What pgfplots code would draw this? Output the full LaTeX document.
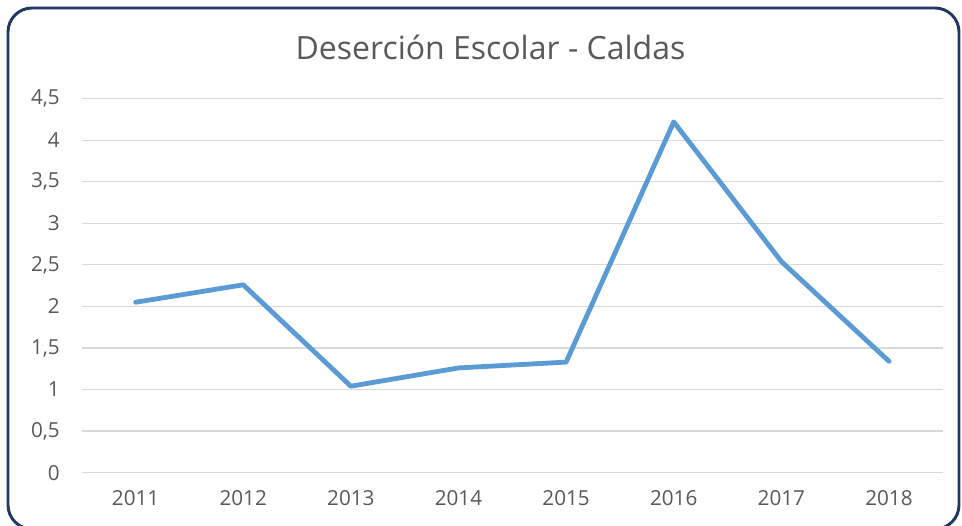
\documentclass[border=0pt]{standalone}
\usepackage{pgfplots}
\pgfplotsset{compat=1.18}
\usepackage{fontspec}
\setmainfont{Open Sans}
\definecolor{linea}{HTML}{5B9BD5}
\definecolor{texto}{HTML}{595959}
\definecolor{rejilla}{HTML}{D9D9D9}
\definecolor{marco}{HTML}{1F3864}
\begin{document}
\begin{tikzpicture}[x=0.75pt,y=0.75pt]
\useasboundingbox (0,0) rectangle (962,525);
\fill[white] (0,0) rectangle (962,525);
\draw[marco,line width=2.2pt,rounded corners=18pt] (8,-4) rectangle (959,517);
\node[texto,font=\fontsize{24}{28}\selectfont] at (490.5,478) {Deserción Escolar - Caldas};
\begin{axis}[
    at={(76,63)},
    anchor=south west,
    scale only axis,
    width=645.75pt,
    height=280.5pt,
    xmin=0.5, xmax=8.5,
    ymin=0, ymax=4.5,
    xtick={1,...,8},
    xticklabels={2011,2012,2013,2014,2015,2016,2017,2018},
    ytick={0,0.5,...,4.5},
    /pgf/number format/use comma,
    /pgf/number format/assume math mode=true,
    axis line style={draw=none},
    major tick length=0pt,
    ymajorgrids,
    grid style={rejilla,line width=0.9pt},
    tick label style={texto,font=\fontsize{15.5}{18}\selectfont},
    yticklabel style={xshift=-13pt},
    xticklabel style={yshift=-10pt},
    clip=false
]
\addplot[linea,line width=3.6pt,line join=round,line cap=round] coordinates {
    (1,2.05) (2,2.26) (3,1.04) (4,1.26) (5,1.33) (6,4.22) (7,2.54) (8,1.34)
};
\end{axis}
\end{tikzpicture}
\end{document}
